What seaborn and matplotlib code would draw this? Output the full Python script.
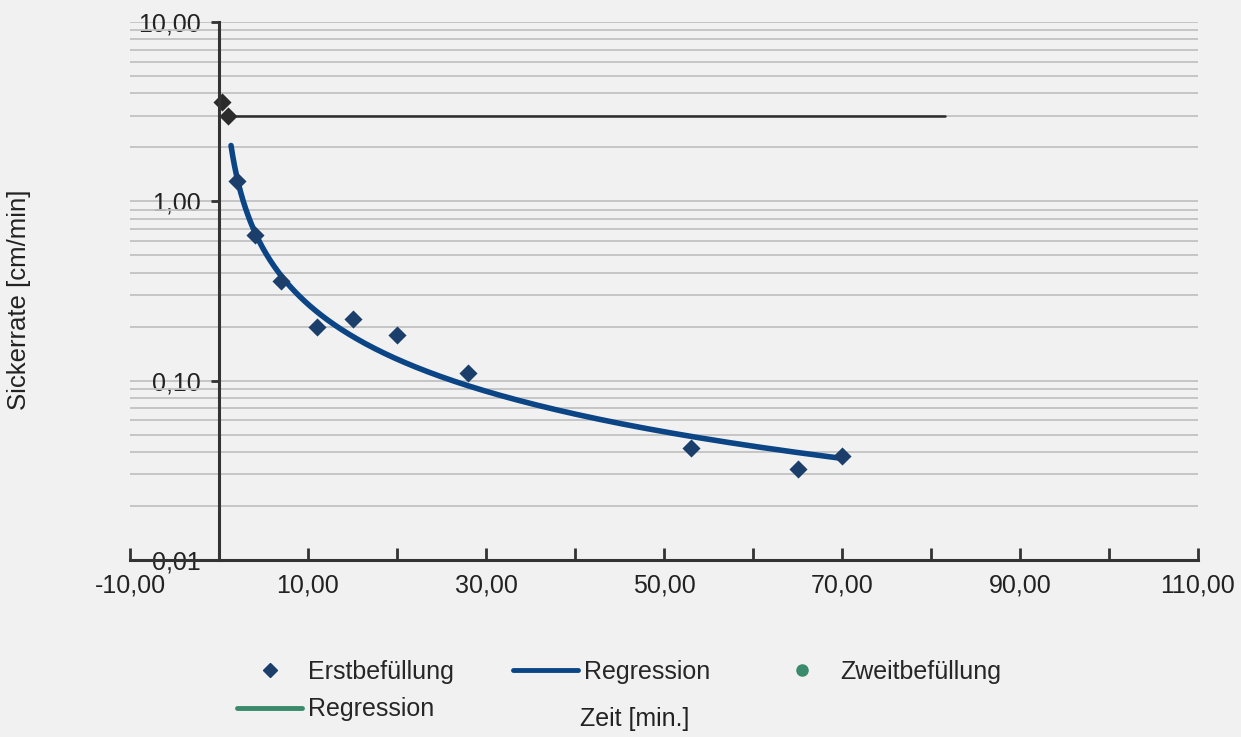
import numpy as np
import pandas as pd
import matplotlib
matplotlib.use("Agg")
import matplotlib.pyplot as plt
from matplotlib.lines import Line2D
from matplotlib.ticker import FixedLocator, FuncFormatter, LogLocator, NullFormatter
import seaborn as sns

# ---- data ----
erst_x = [2.0, 4.0, 7.0, 11.0, 15.0, 20.0, 28.0, 53.0, 65.0, 70.0]
erst_y = [1.30, 0.65, 0.36, 0.20, 0.22, 0.18, 0.11, 0.042, 0.032, 0.038]
zweit_x = [0.3, 1.0]
zweit_y = [3.6, 3.0]
zweit_reg_x = [0.0, 81.6]
zweit_reg_y = [3.0, 3.0]
reg_x_start = 1.35
x_ticks = list(range(-10, 111, 10))
x_labels_at = [-10, 10, 30, 50, 70, 90, 110]
y_ticks = [0.01, 0.1, 1.0, 10.0]

sns.set_theme(style="white")
plt.rcParams["font.family"] = ["Liberation Sans", "DejaVu Sans"]

bg = "#f1f1f1"
blue = "#0b4586"
dia_col = "#1b3e6b"
green = "#3a8a6c"
dark = "#2b2b2b"
axis_col = "#333333"

fig = plt.figure(figsize=(12.41, 7.37), dpi=100, facecolor=bg)
ax = fig.add_axes([130 / 1241, 1 - 560 / 737, (1198 - 130) / 1241, (560 - 22) / 737])
ax.set_facecolor(bg)

# power regression fitted on the data (as in the original trend line)
b, loga = np.polyfit(np.log(erst_x), np.log(erst_y), 1)
fx = np.geomspace(reg_x_start, max(erst_x), 200)
reg_df = pd.DataFrame({"x": fx, "y": np.exp(loga) * fx ** b})

sns.lineplot(data=pd.DataFrame({"x": zweit_reg_x, "y": zweit_reg_y}), x="x", y="y",
             ax=ax, color=dark, lw=1.8, zorder=3)
sns.lineplot(data=reg_df, x="x", y="y", ax=ax, color=blue, lw=4.0, zorder=4)
sns.scatterplot(x=erst_x, y=erst_y, ax=ax, marker="D", s=85, color=dia_col,
                edgecolor=dia_col, linewidth=0, zorder=5)
sns.scatterplot(x=zweit_x, y=zweit_y, ax=ax, marker="D", s=85, color=dark,
                edgecolor=dark, linewidth=0, zorder=5)

ax.set_yscale("log")
ax.set_xlim(-10, 110)
ax.set_ylim(0.01, 10)

# grid: horizontal lines at every log step
ax.yaxis.set_major_locator(FixedLocator(y_ticks))
ax.yaxis.set_minor_locator(LogLocator(base=10, subs=np.arange(2, 10)))
ax.yaxis.set_minor_formatter(NullFormatter())
ax.yaxis.set_major_formatter(FuncFormatter(lambda v, p: f"{v:.2f}".replace(".", ",")))
ax.grid(True, which="both", axis="y", color="#c2c2c2", lw=1.3, zorder=0)
ax.grid(False, axis="x")

ax.xaxis.set_major_locator(FixedLocator(x_ticks))
ax.xaxis.set_major_formatter(FuncFormatter(
    lambda v, p: f"{v:.2f}".replace(".", ",") if round(v) in x_labels_at else ""))

for s in ["top", "right"]:
    ax.spines[s].set_visible(False)
ax.spines["left"].set_position(("data", 0))
ax.spines["left"].set_color(axis_col)
ax.spines["left"].set_linewidth(2.2)
ax.spines["bottom"].set_color(axis_col)
ax.spines["bottom"].set_linewidth(2.2)
ax.spines["left"].set_zorder(6)

ax.tick_params(axis="x", which="major", direction="in", length=9, width=2,
               color=axis_col, labelsize=18, pad=10, labelcolor="#222222", bottom=True)
ax.tick_params(axis="y", which="major", direction="out", length=6, width=2,
               color=axis_col, labelsize=18, pad=7, labelcolor="#222222", left=True)
ax.tick_params(axis="y", which="minor", length=0, left=False)

ax.set_ylabel("Sickerrate [cm/min]", fontsize=18.5, color="#222222")
ax.yaxis.set_label_coords(-0.0927, 0.483)
ax.set_xlabel("Zeit [min.]", fontsize=18, color="#222222")
ax.xaxis.set_label_coords(0.473, -0.273)

handles = [
    Line2D([], [], marker="D", ls="none", color=dia_col, markersize=7),
    Line2D([], [], color=green, lw=3.5),
    Line2D([], [], color=blue, lw=3.5),
    Line2D([], [], marker="o", ls="none", color=green, markersize=8),
]
labels = ["Erstbefüllung", "Regression", "Regression", "Zweitbefüllung"]
fig.legend(handles, labels, loc="upper left", bbox_to_anchor=(0.191, 0.105),
           ncol=3, frameon=False, fontsize=18, borderpad=0, borderaxespad=0,
           handlelength=2.6, handletextpad=0.25, columnspacing=2.35, labelspacing=0.55)

fig.savefig("out.png", dpi=100, facecolor=bg)
